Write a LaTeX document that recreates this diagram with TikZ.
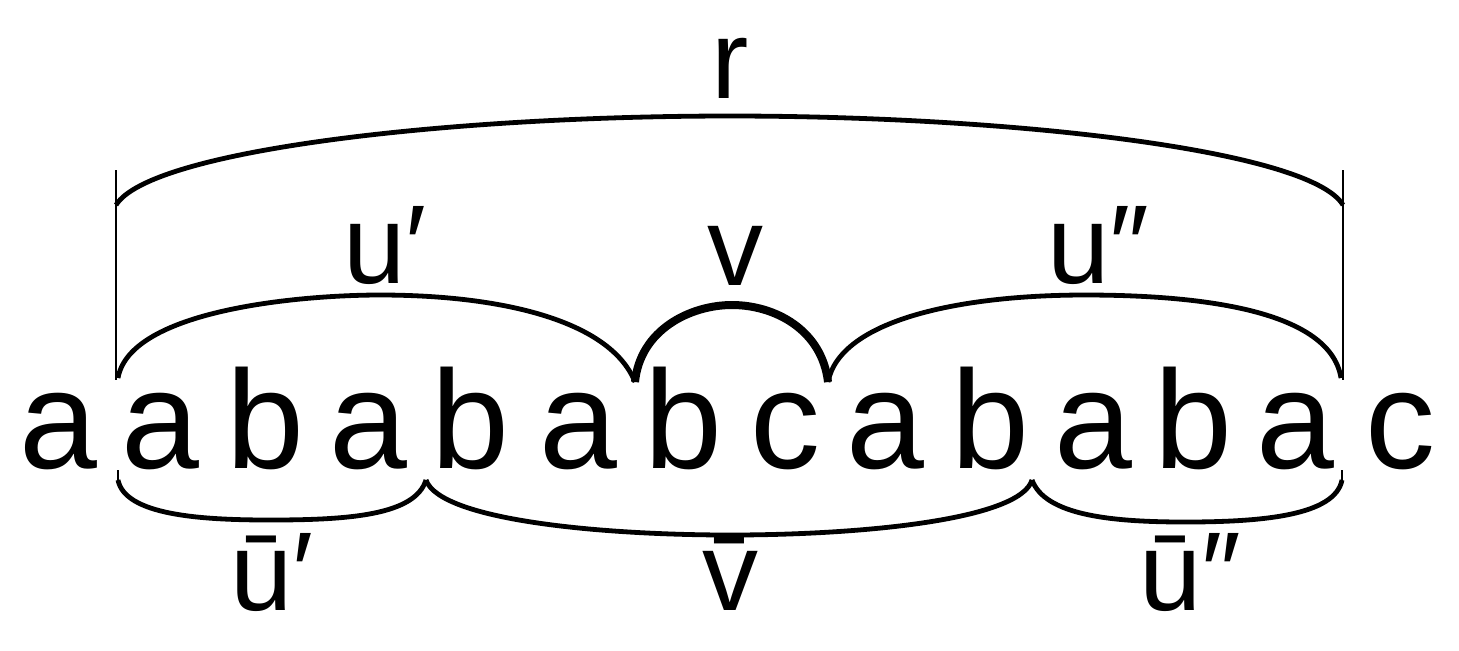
\documentclass[tikz,border=0pt]{standalone}
\usepackage{fontspec}
\setmainfont{Liberation Sans}
\begin{document}
\begin{tikzpicture}[x=0.5pt,y=-0.5pt,
  br/.style={line width=2.4pt},
  thk/.style={line width=4pt},
  lt/.style={font=\fontsize{70}{74}\selectfont, inner sep=0pt, anchor=base, draw=none},
  lab/.style={font=\fontsize{56}{60}\selectfont, inner sep=0pt, anchor=base}]
\useasboundingbox (0,0) rectangle (1459,650);
\foreach \ch/\xx [count=\i] in {a/58,a/160,b/265,a/368,b/470,a/578,b/683,c/785,a/885,b/990,a/1093,b/1193,a/1295,c/1400}
  \node[lt] (L\i) at (\xx,468) {\ch};
\coordinate (TL) at (116,170); \coordinate (TR) at (1343,170);
\coordinate (BL) at (116,380); \coordinate (BR) at (1343,380);
\draw[line width=1.4pt] (TL) -- (BL);
\draw[line width=1.4pt] (TR) -- (BR);
% r brace
\coordinate (rtop) at (730,116);
\draw[br] (116,205) .. controls (150,150) and (450,116) .. (rtop) .. controls (1010,116) and (1310,150) .. (1343,205);
\node[lab] (r) at (730,98) {r};
% upper arcs
\coordinate (p1) at (635,382); \coordinate (p2) at (828,382);
\draw[br] (118,378) .. controls (130,310) and (300,295) .. (380,295) .. controls (500,295) and (610,320) .. (p1);
\draw[thk] (p1) .. controls (640,330) and (690,305) .. (732,305) .. controls (775,305) and (822,330) .. (p2);
\draw[br] (p2) .. controls (840,320) and (960,295) .. (1085,295) .. controls (1200,295) and (1330,310) .. (1341,378);
\node[lab] (u1) at (385,283) {u′};
\node[lab] (v) at (735,285) {v};
\node[lab] (u2) at (1098,283) {u″};
% lower braces
\coordinate (q0) at (118,480); \coordinate (q1) at (426,480); \coordinate (q2) at (1032,480); \coordinate (q3) at (1342,480);
\draw[line width=1.4pt] (118,470) -- (q0);
\draw[line width=1.4pt] (1342,470) -- (q3);
\draw[br] (q0) .. controls (125,515) and (200,520) .. (270,520) .. controls (350,520) and (415,515) .. (q1);
\draw[br] (q1) .. controls (440,520) and (600,535) .. (730,535) .. controls (860,535) and (1020,520) .. (q2);
\draw[br] (q2) .. controls (1045,515) and (1110,522) .. (1185,522) .. controls (1265,522) and (1335,515) .. (q3);
\node[lab] (bu1) at (272,610) {ū′};
\node[lab] (bv) at (730,610) {v̄};
\node[lab] (bu2) at (1190,610) {ū″};
\end{tikzpicture}
\end{document}
